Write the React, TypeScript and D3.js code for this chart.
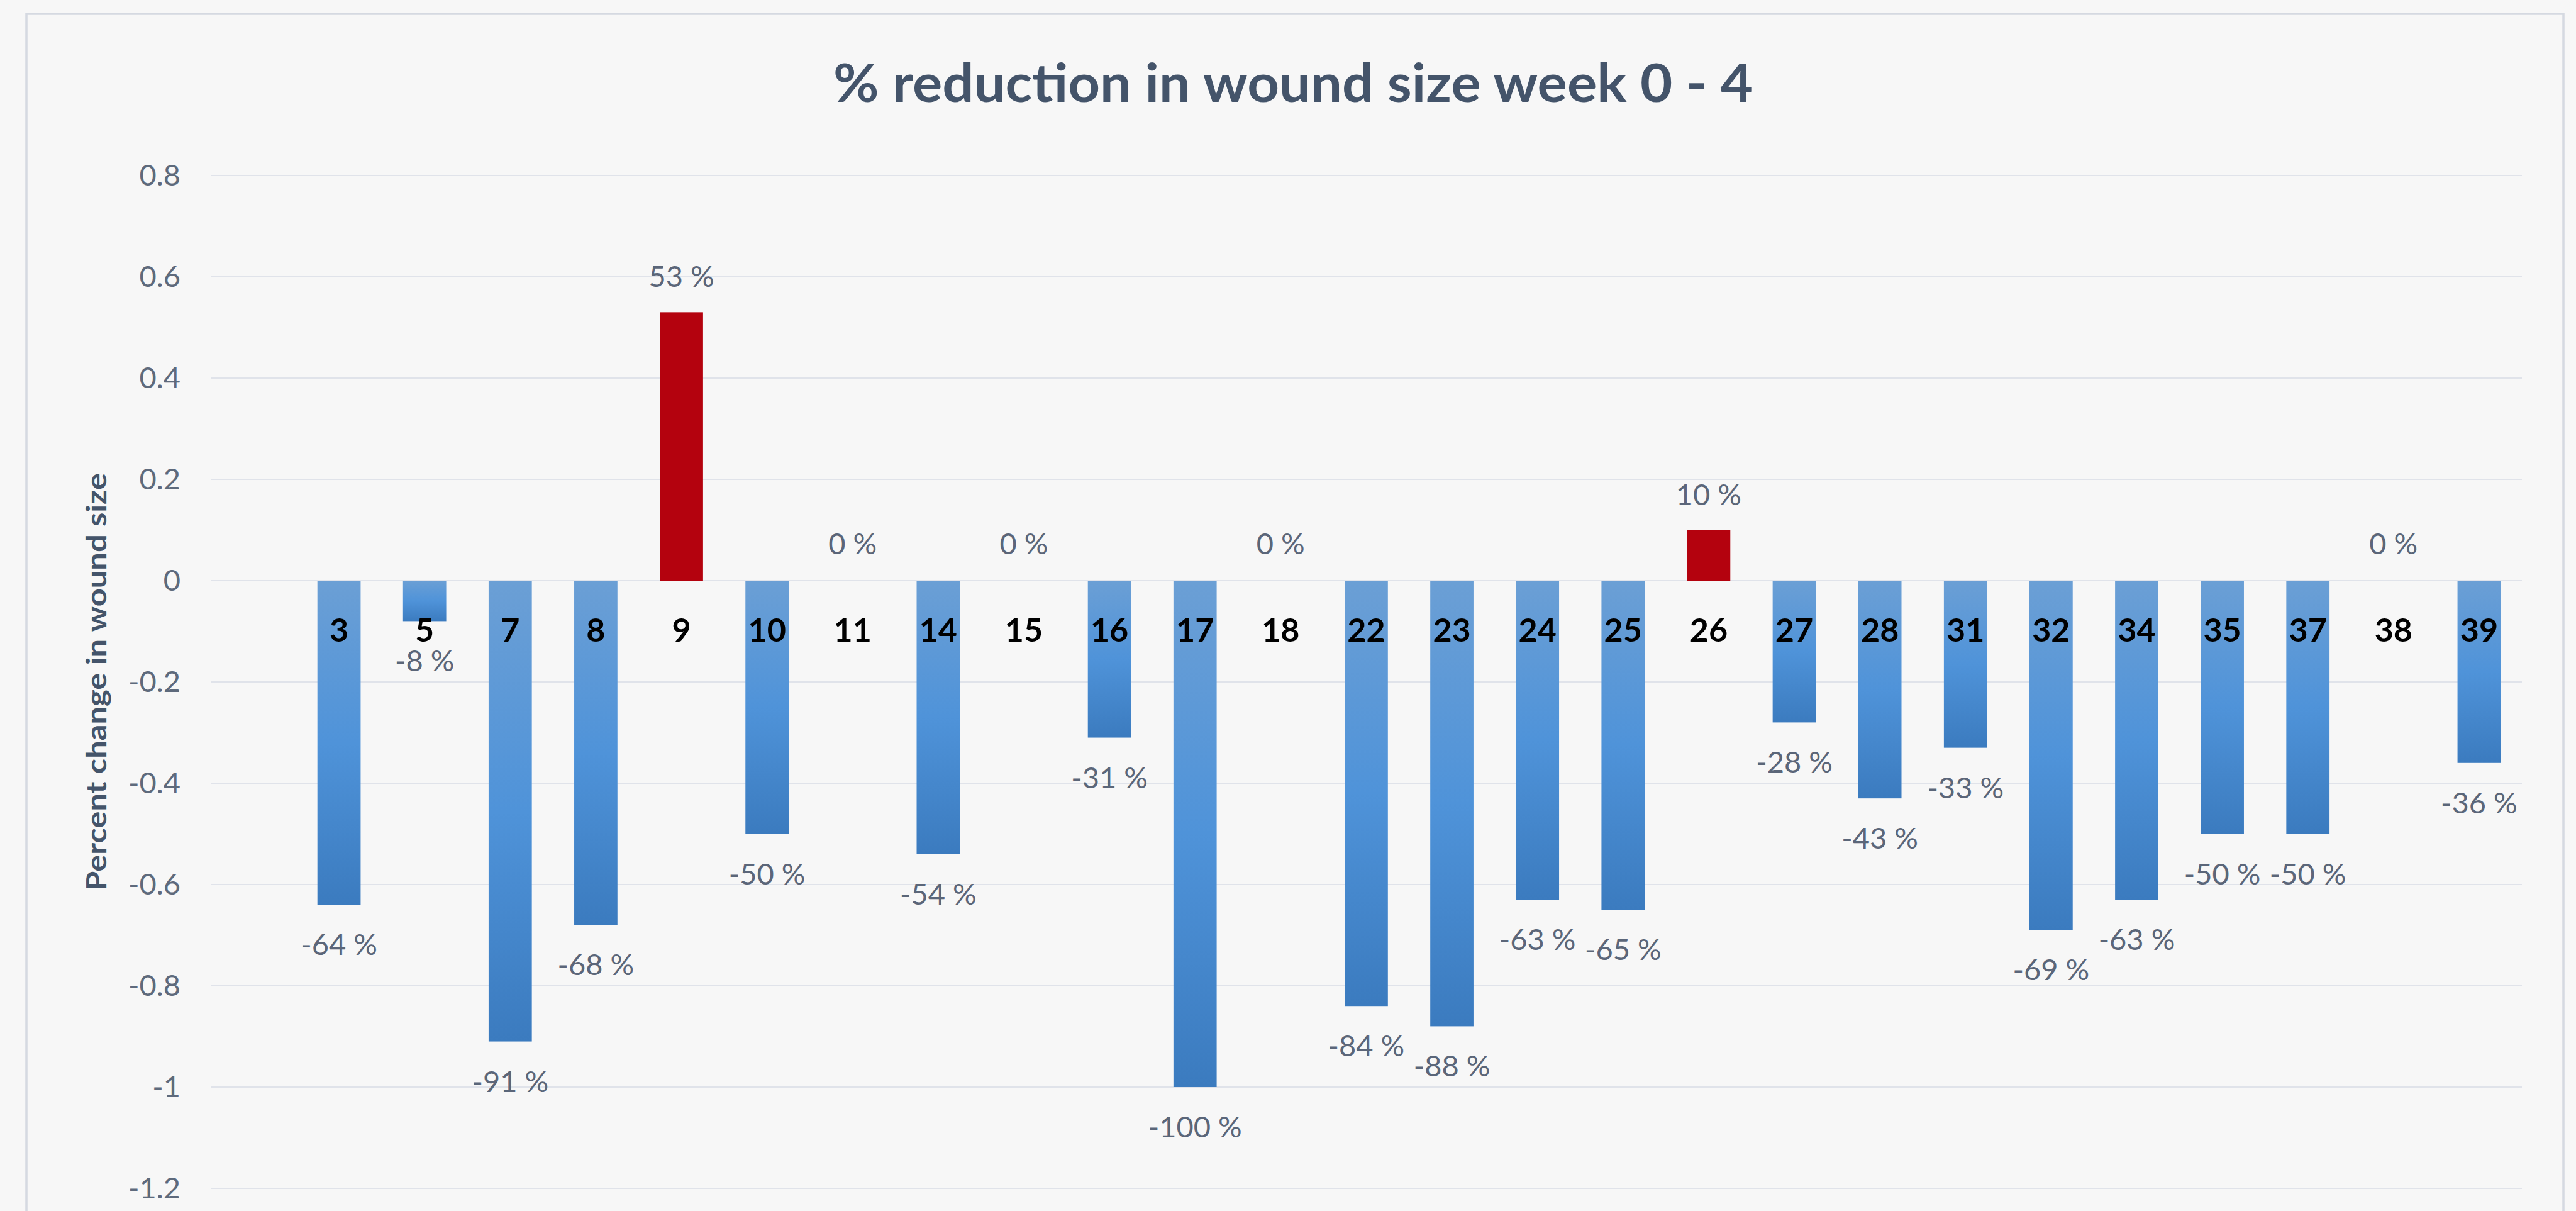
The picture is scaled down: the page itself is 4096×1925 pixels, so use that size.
import React from "react";
import * as d3 from "d3";

// chart data
const categories = ["3", "5", "7", "8", "9", "10", "11", "14", "15", "16", "17", "18", "22", "23", "24", "25", "26", "27", "28", "31", "32", "34", "35", "37", "38", "39"];
const changes = [-0.64, -0.08, -0.91, -0.68, 0.53, -0.5, 0, -0.54, 0, -0.31, -1.0, 0, -0.84, -0.88, -0.63, -0.65, 0.1, -0.28, -0.43, -0.33, -0.69, -0.63, -0.5, -0.5, 0, -0.36];
const yTicks = [0.8, 0.6, 0.4, 0.2, 0, -0.2, -0.4, -0.6, -0.8, -1, -1.2];

const W = 4096;
const H = 1925;
const FONT = "Lato, 'Open Sans', sans-serif";

export default function App() {
  const plotLeft = 335;
  const plotRight = 4010;

  // first slot of the category axis is empty in the original, so bars start one step in
  const x = d3
    .scaleBand<string>()
    .domain(categories)
    .range([471, plotRight])
    .paddingInner(0.495)
    .paddingOuter(0.2475);

  const y = d3.scaleLinear().domain([-1.2, 0.8]).range([1889, 279]);

  const data = categories.map((c, i) => ({ cat: c, value: changes[i] }));

  const labelY = (v: number) => {
    if (v > 0) return y(v) - 40;
    if (v === 0) return y(0) - 42;
    return y(v) + 80;
  };

  return (
    <svg
      width={W}
      height={H}
      style={{ position: "absolute", left: 0, top: 0, display: "block" }}
    >
      <defs>
        <linearGradient id="blueGrad" x1="0" y1="0" x2="0" y2="1">
          <stop offset="0%" stopColor="#6b9fd5" />
          <stop offset="50%" stopColor="#4f93d9" />
          <stop offset="100%" stopColor="#3b7bbf" />
        </linearGradient>
      </defs>

      <rect x={0} y={0} width={W} height={H} fill="#f7f7f7" />
      {/* chart frame */}
      <rect
        x={42}
        y={22}
        width={4034}
        height={H}
        fill="#f7f7f7"
        stroke="#d5d9e1"
        strokeWidth={3.5}
      />

      <text
        x={2056}
        y={162}
        textAnchor="middle"
        fontFamily={FONT}
        fontWeight="bold"
        fontSize={84}
        fill="#44546a"
        textLength={1462}
        lengthAdjust="spacingAndGlyphs"
      >
        % reduction in wound size week 0 - 4
      </text>

      {/* gridlines + y tick labels */}
      {yTicks.map((t) => (
        <g key={t}>
          <line
            x1={plotLeft}
            x2={plotRight}
            y1={y(t)}
            y2={y(t)}
            stroke="#e0e3ea"
            strokeWidth={2.2}
          />
          <text
            x={287}
            y={y(t)}
            dy="0.35em"
            textAnchor="end"
            fontFamily={FONT}
            fontSize={47}
            fill="#5e6a7c"
          >
            {d3.format("")(t).replace("−", "-")}
          </text>
        </g>
      ))}

      <text
        transform={`translate(169, ${(y(0.8) + y(-1.2)) / 2}) rotate(-90)`}
        textAnchor="middle"
        fontFamily={FONT}
        fontWeight="bold"
        fontSize={44}
        fill="#44546a"
        textLength={664}
        lengthAdjust="spacingAndGlyphs"
      >
        Percent change in wound size
      </text>

      {/* bars */}
      {data.map((d) =>
        d.value === 0 ? null : (
          <rect
            key={d.cat}
            x={x(d.cat)}
            y={Math.min(y(d.value), y(0))}
            width={x.bandwidth()}
            height={Math.abs(y(d.value) - y(0))}
            fill={d.value > 0 ? "#b4020e" : "url(#blueGrad)"}
          />
        )
      )}

      {/* category labels on the zero line */}
      {data.map((d) => (
        <text
          key={"c" + d.cat}
          x={(x(d.cat) || 0) + x.bandwidth() / 2}
          y={y(0) + 97}
          textAnchor="middle"
          fontFamily={FONT}
          fontWeight="bold"
          fontSize={52}
          fill="#000"
        >
          {d.cat}
        </text>
      ))}

      {/* value labels */}
      {data.map((d) => (
        <text
          key={"v" + d.cat}
          x={(x(d.cat) || 0) + x.bandwidth() / 2}
          y={labelY(d.value)}
          textAnchor="middle"
          fontFamily={FONT}
          fontSize={47}
          fill="#5b6679"
        >
          {`${Math.round(d.value * 100)} %`}
        </text>
      ))}
    </svg>
  );
}
